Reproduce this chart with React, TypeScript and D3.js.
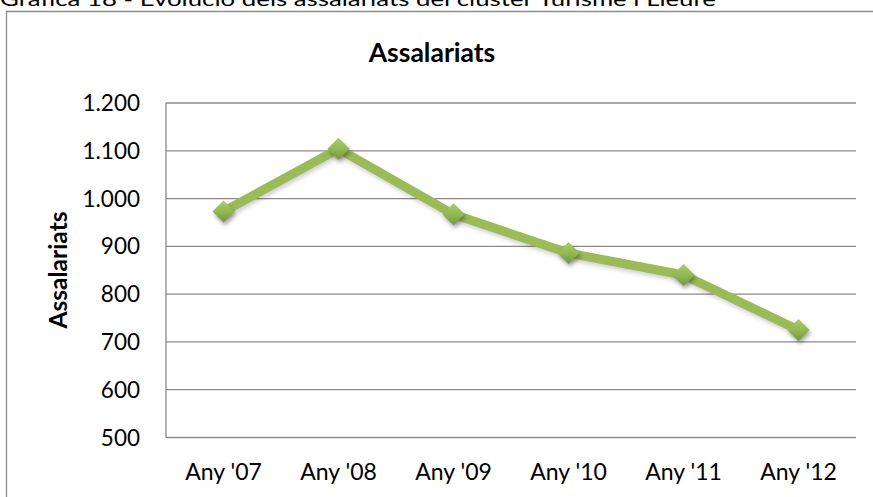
import React from "react";
import * as d3 from "d3";

const categories = ["Any '07", "Any '08", "Any '09", "Any '10", "Any '11", "Any '12"];
const values = [973, 1104, 967, 886, 840, 725];
const yTicks = [500, 600, 700, 800, 900, 1000, 1100, 1200];
const chartTitle = "Assalariats";
const yAxisTitle = "Assalariats";
const caption = "Gràfica 18 - Evolució dels assalariats del clúster Turisme i Lleure";

const W = 873;
const H = 497;
const plot = { left: 166, right: 856, top: 103, bottom: 437.5 };
const FONT = "Lato, 'Open Sans', sans-serif";

const fmt = (v: number) => {
  const s = String(v);
  return s.length > 3 ? s.slice(0, s.length - 3) + "." + s.slice(s.length - 3) : s;
};

export default function App() {
  const x = d3.scaleBand<string>().domain(categories).range([plot.left, plot.right]);
  const y = d3.scaleLinear().domain([500, 1200]).range([plot.bottom, plot.top]);
  const cx = (c: string) => (x(c) ?? 0) + x.bandwidth() / 2;
  const pts: [number, number][] = categories.map((c, i) => [cx(c), y(values[i])]);
  const line = d3.line<[number, number]>().x((d) => d[0]).y((d) => d[1])(pts) ?? "";
  const r = 11;
  const diamond = (px: number, py: number) =>
    `M${px},${py - r}L${px + r},${py}L${px},${py + r}L${px - r},${py}Z`;

  return (
    <svg
      width={W}
      height={H}
      style={{ position: "absolute", left: 0, top: 0, background: "#fff" }}
      fontFamily={FONT}
    >
      <defs>
        <linearGradient id="mk" x1="0" y1="0" x2="0" y2="1">
          <stop offset="0" stopColor="#a9cc66" />
          <stop offset="0.5" stopColor="#93b952" />
          <stop offset="1" stopColor="#74963a" />
        </linearGradient>
        <filter id="sh" x="-50%" y="-50%" width="200%" height="200%">
          <feGaussianBlur stdDeviation="2.2" />
        </filter>
        <filter id="lsh" x="-10%" y="-50%" width="120%" height="200%">
          <feGaussianBlur stdDeviation="2" />
        </filter>
      </defs>
      <rect width={W} height={H} fill="#fff" />
      {/* caption (cut off at top, as in the reference) */}
      <text x={0} y={6} fontSize={20} fill="#000" textLength={716} lengthAdjust="spacingAndGlyphs">
        {caption}
      </text>
      {/* outer chart border */}
      <path d={`M6.5,${H + 2}V11.5H${W + 2}`} fill="none" stroke="#8c8c8c" strokeWidth={1.3} />
      {/* title */}
      <text x={432} y={62} textAnchor="middle" fontSize={26.5} fontWeight="bold" fill="#000">
        {chartTitle}
      </text>
      {/* gridlines */}
      {yTicks.map((t) => (
        <line
          key={t}
          x1={plot.left}
          x2={plot.right}
          y1={y(t)}
          y2={y(t)}
          stroke="#8a8a8a"
          strokeWidth={1.3}
        />
      ))}
      <line x1={plot.left} x2={plot.left} y1={plot.top} y2={plot.bottom} stroke="#8a8a8a" strokeWidth={1.3} />
      {/* y tick labels */}
      {yTicks.map((t) => (
        <text key={t} x={140} y={y(t) + 8} textAnchor="end" fontSize={22.5} fill="#000">
          {fmt(t)}
        </text>
      ))}
      {/* x labels */}
      {categories.map((c) => (
        <text key={c} x={cx(c)} y={480} textAnchor="middle" fontSize={23} fill="#000">
          {c}
        </text>
      ))}
      {/* y axis title */}
      <text
        transform={`translate(67,270) rotate(-90)`}
        textAnchor="middle"
        fontSize={24.5}
        fontWeight="bold"
        fill="#000"
      >
        {yAxisTitle}
      </text>
      {/* line shadow */}
      <path d={line} transform="translate(1.5,3)" fill="none" stroke="#000" strokeOpacity={0.18} strokeWidth={9} filter="url(#lsh)" strokeLinejoin="round" />
      <path d={line} fill="none" stroke="#9bbb59" strokeWidth={9} strokeLinejoin="round" />
      {/* markers */}
      {pts.map(([px, py], i) => (
        <g key={i}>
          <path d={diamond(px + 1.5, py + 3)} fill="#000" fillOpacity={0.35} filter="url(#sh)" />
          <path d={diamond(px, py)} fill="url(#mk)" />
        </g>
      ))}
    </svg>
  );
}
